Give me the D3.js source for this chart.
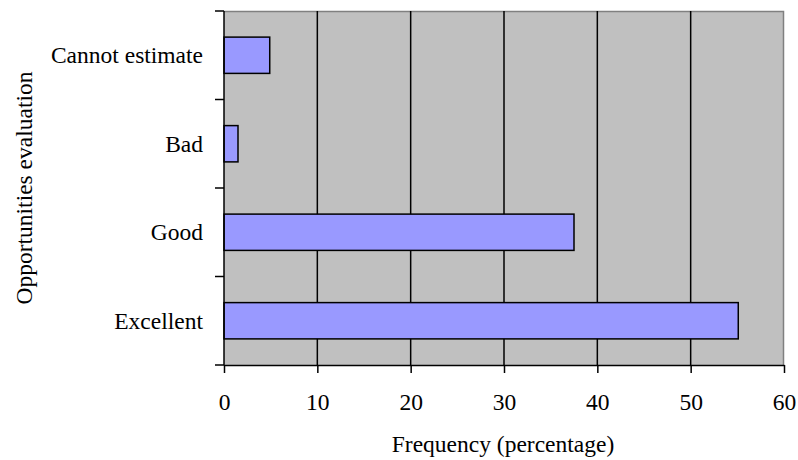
<!DOCTYPE html>
<html>
<head>
<meta charset="utf-8">
<script src="https://cdn.jsdelivr.net/npm/d3@7"></script>
<style>
  body { margin: 0; background: #fff; }
  svg { display: block; }
</style>
</head>
<body>
<div id="chart"></div>
<script>
const categories = ["Cannot estimate", "Bad", "Good", "Excellent"];
const frequencies = [4.9, 1.5, 37.5, 55.1];
const xTicks = [0, 10, 20, 30, 40, 50, 60];

const width = 798;
const height = 460;
const margin = { top: 11, right: 14, bottom: 95, left: 224 };
const font = "'Liberation Serif', 'Times New Roman', serif";
const fontSize = "23.5px";

const svg = d3.select("#chart")
    .append("svg")
    .attr("width", width)
    .attr("height", height);

const x = d3.scaleLinear()
    .domain([0, 60])
    .range([margin.left, width - margin.right]);
const y = d3.scaleBand()
    .domain(categories)
    .range([margin.top, height - margin.bottom])
    .paddingInner(0.59)
    .paddingOuter(0.295);

const plotTop = margin.top, plotBottom = height - margin.bottom;

// plot background
svg.append("rect")
    .attr("x", x(0))
    .attr("y", plotTop)
    .attr("width", x(60) - x(0))
    .attr("height", plotBottom - plotTop)
    .attr("fill", "#c0c0c0");

// top and right borders
svg.append("path")
    .attr("d", `M${x(0)},${plotTop + 0.5}H${x(60) - 0.5}V${plotBottom}`)
    .attr("fill", "none")
    .attr("stroke", "#808080")
    .attr("stroke-width", 1.5);

// gridlines
svg.append("g")
    .selectAll("line")
    .data(xTicks.filter(d => d > 0 && d < 60))
    .join("line")
    .attr("x1", d => x(d))
    .attr("x2", d => x(d))
    .attr("y1", plotTop)
    .attr("y2", plotBottom)
    .attr("stroke", "#000")
    .attr("stroke-width", 1.5);

// bars
svg.append("g")
    .selectAll("rect")
    .data(categories.map((c, i) => ({ cat: c, val: frequencies[i] })))
    .join("rect")
    .attr("x", x(0))
    .attr("y", d => y(d.cat))
    .attr("width", d => x(d.val) - x(0))
    .attr("height", y.bandwidth())
    .attr("fill", "#9999ff")
    .attr("stroke", "#000")
    .attr("stroke-width", 1.5);

// x axis
const xAxis = svg.append("g")
    .attr("transform", `translate(0,${plotBottom})`)
    .call(d3.axisBottom(x).tickValues(xTicks).tickSize(8).tickPadding(20).tickSizeOuter(0));
xAxis.select(".domain").attr("stroke-width", 1.5);
xAxis.selectAll(".tick line").attr("stroke-width", 1.5);
xAxis.selectAll("text")
    .style("font-family", font)
    .style("font-size", fontSize)
    .attr("fill", "#000");

// y axis: ticks at band boundaries
const yAxis = svg.append("g");
yAxis.append("line")
    .attr("x1", x(0)).attr("x2", x(0))
    .attr("y1", plotTop).attr("y2", plotBottom)
    .attr("stroke", "#000")
    .attr("stroke-width", 1.5);
const boundaries = d3.range(categories.length + 1)
    .map(i => plotTop + i * (plotBottom - plotTop) / categories.length);
yAxis.selectAll(".ytick")
    .data(boundaries)
    .join("line")
    .attr("class", "ytick")
    .attr("x1", x(0) - 9).attr("x2", x(0))
    .attr("y1", d => d).attr("y2", d => d)
    .attr("stroke", "#000")
    .attr("stroke-width", 1.5);
yAxis.selectAll(".ylabel")
    .data(categories)
    .join("text")
    .attr("class", "ylabel")
    .attr("x", x(0) - 21)
    .attr("y", d => y(d) + y.bandwidth() / 2)
    .attr("dy", "0.35em")
    .attr("text-anchor", "end")
    .style("font-family", font)
    .style("font-size", fontSize)
    .text(d => d);

// axis titles
svg.append("text")
    .attr("x", 503)
    .attr("y", 452)
    .attr("text-anchor", "middle")
    .style("font-family", font)
    .style("font-size", fontSize)
    .text("Frequency (percentage)");

svg.append("text")
    .attr("transform", "rotate(-90)")
    .attr("x", -(plotTop + plotBottom) / 2)
    .attr("y", 32)
    .attr("text-anchor", "middle")
    .style("font-family", font)
    .style("font-size", fontSize)
    .text("Opportunities evaluation");
</script>
</body>
</html>
